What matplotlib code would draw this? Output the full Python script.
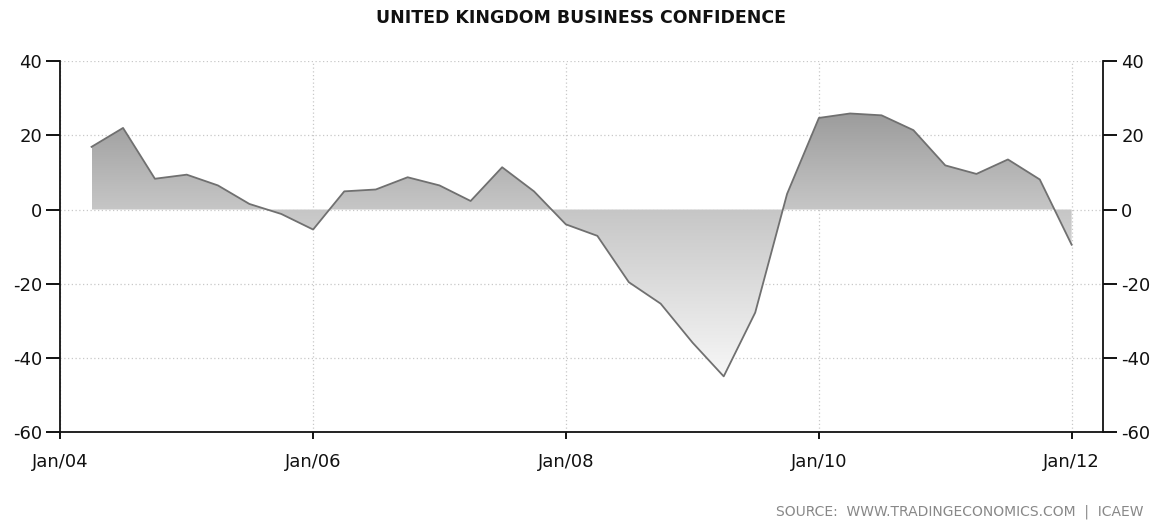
import numpy as np
import pandas as pd
import matplotlib
matplotlib.use("Agg")
import matplotlib.pyplot as plt
import matplotlib.dates as mdates
from matplotlib.colors import LinearSegmentedColormap

# quarterly readings, Q2 2004 .. Q1 2012
dates = pd.date_range("2004-04-01", "2012-01-01", freq="QS")
values = [16.9, 22.0, 8.3, 9.4, 6.5, 1.5, -1.2, -5.4,
          4.9, 5.4, 8.7, 6.5, 2.3, 11.4, 4.9, -4.0,
          -7.1, -19.6, -25.4, -35.9, -45.0, -27.8, 4.2, 24.7,
          25.9, 25.4, 21.4, 11.9, 9.6, 13.5, 8.1, -9.5]

title = "UNITED KINGDOM BUSINESS CONFIDENCE"
source = "SOURCE:  WWW.TRADINGECONOMICS.COM  |  ICAEW"
yticks = [-60, -40, -20, 0, 20, 40]
xtick_years = [2004, 2006, 2008, 2010, 2012]

plt.rcParams['font.family'] = ['DejaVu Sans']
plt.rcParams['axes.unicode_minus'] = False

fig = plt.figure(figsize=(11.59, 5.23), dpi=100)
ax = fig.add_axes([0.0518, 0.174, 0.9, 0.709])

x = mdates.date2num(dates)
y = np.array(values)

ax.set_ylim(-60, 40)
ax.set_xlim(mdates.date2num(pd.Timestamp("2004-01-01")),
            mdates.date2num(pd.Timestamp("2012-04-01")))

# gradient fill between line and zero
poly = ax.fill_between(x, y, 0, facecolor="none", edgecolor="none")
ymax, ymin = y.max(), y.min()
zero_pos = (0 - ymin) / (ymax - ymin)
cmap = LinearSegmentedColormap.from_list(
    "g", [(0, "#f7f7f7"), (zero_pos, "#c6c6c6"), (1, "#9c9c9c")])
grad = np.linspace(ymin, ymax, 256).reshape(-1, 1)
im = ax.imshow(grad, cmap=cmap, aspect="auto", origin="lower",
               extent=[x[0], x[-1], ymin, ymax], zorder=1,
               vmin=ymin, vmax=ymax, interpolation="bilinear")
im.set_clip_path(poly.get_paths()[0], transform=ax.transData)

ax.plot(x, y, color="#707070", lw=1.3, zorder=3)

# grid
ax.set_yticks(yticks)
ax.set_xticks([mdates.date2num(pd.Timestamp(f"{yr}-01-01")) for yr in xtick_years])
ax.set_xticklabels([f"Jan/{yr % 100:02d}" for yr in xtick_years])
ax.grid(True, linestyle=(0, (1, 2)), color="#c8c8c8", lw=0.9, zorder=0)
ax.set_axisbelow(True)

ax.spines["top"].set_visible(False)
for s in ["left", "right", "bottom"]:
    ax.spines[s].set_linewidth(1.3)
    ax.spines[s].set_color("#111111")

ax.tick_params(axis="y", which="both", left=True, right=True, labelleft=True,
               labelright=True, length=10, width=1.3, pad=3, labelsize=13,
               labelcolor="#111111")
ax.tick_params(axis="x", length=5, width=1.3, pad=10, labelsize=13,
               labelcolor="#111111")

fig.text(0.501, 0.966, title, ha="center", va="center", fontsize=12.5,
         fontweight="bold", color="#111111")
fig.text(0.987, 0.022, source, ha="right", va="center", fontsize=10,
         color="#888888")

fig.savefig("out.png", dpi=100)
